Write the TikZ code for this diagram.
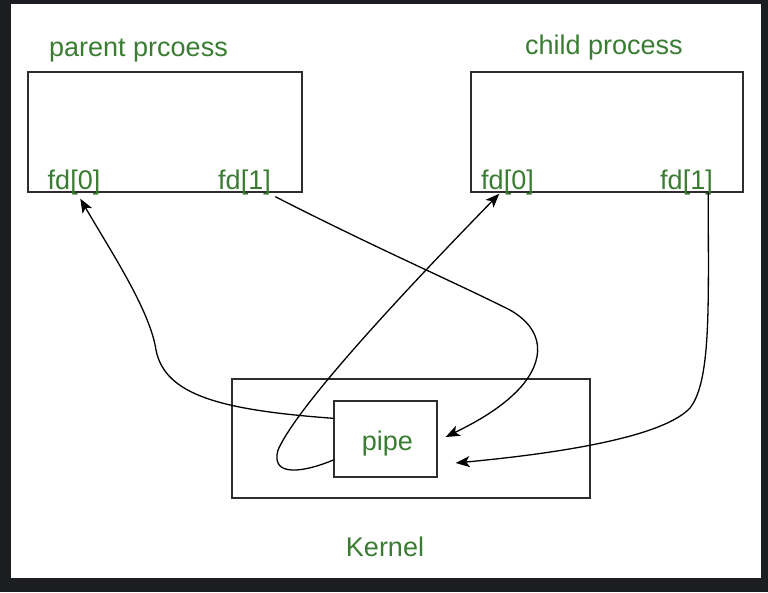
\documentclass[tikz,border=0pt]{standalone}
\usepackage{fontspec}
\setmainfont{Liberation Sans}
\usetikzlibrary{arrows.meta,calc}
\definecolor{frame}{RGB}{27,29,32}
\definecolor{txtgreen}{RGB}{58,125,50}
\definecolor{linegray}{RGB}{45,45,45}
\begin{document}
\begin{tikzpicture}[x=1pt,y=-1pt,
  box/.style={draw=linegray,line width=1.4pt,inner sep=0pt,fill=none},
  lbl/.style={text=txtgreen,inner sep=0pt,anchor=base,font=\fontsize{27}{30}\selectfont},
  conn/.style={draw=black,line width=1.3pt,-{Stealth[length=14pt,width=11pt,inset=3.5pt]}}]
\useasboundingbox (0,0) rectangle (768,592);
\fill[frame] (0,0) rectangle (768,592);
\fill[white] (11,4) rectangle (761,578);
% boxes
\node[box,minimum width=274pt,minimum height=120pt] (parent) at (165,132) {};
\node[box,minimum width=272pt,minimum height=120pt] (child) at (607,132) {};
\node[box,minimum width=358pt,minimum height=119pt] (kernel) at (411,438.5) {};
\node[box,minimum width=103pt,minimum height=76pt] (pipe) at (385.5,439) {};
% labels
\node[lbl] (ptitle) at (138.5,56) {parent prcoess};
\node[lbl] (ctitle) at (604,54) {child process};
\node[lbl] (pfd0) at (74,189) {fd[0]};
\node[lbl] (pfd1) at (244.5,189) {fd[1]};
\node[lbl] (cfd0) at (507.5,189) {fd[0]};
\node[lbl] (cfd1) at (686.5,189) {fd[1]};
\node[lbl] (pipetxt) at (387.5,450) {pipe};
\node[lbl] (ktitle) at (385,556) {Kernel};
% connectors
\draw[conn] ($(pipe.north west)+(0,18)$) .. controls (220,410) and (165,395) .. (156,350)
  .. controls (150,310) and (110,250) .. ($(parent.south west)+(53,6)$);
\draw[conn] ($(parent.south west)+(248,4)$) .. controls (380,250) and (450,280) .. (510,310)
  .. controls (545,330) and (545,360) .. (520,388)
  .. controls (500,410) and (470,425) .. ($(pipe.east)+(8,-2)$);
\draw[conn] ($(pipe.west)+(0,21)$) .. controls (305,472) and (270,478) .. (278,450)
  .. controls (300,400) and (430,265) .. ($(child.south west)+(29,1)$);
\draw[conn] ($(child.south west)+(238,0)$) .. controls (708,300) and (712,380) .. (690,408)
  .. controls (660,440) and (540,455) .. ($(pipe.east)+(18,24)$);
\end{tikzpicture}
\end{document}
